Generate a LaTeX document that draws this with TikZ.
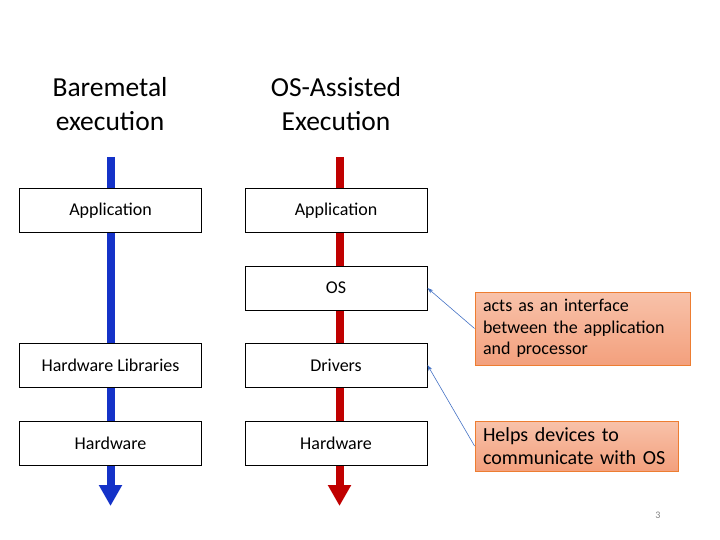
\documentclass[tikz,border=0pt]{standalone}
\usepackage{fontspec}
\setmainfont{Carlito}
\usetikzlibrary{arrows.meta,backgrounds}
\definecolor{spblue}{RGB}{20,50,200}
\definecolor{spred}{RGB}{192,0,0}
\definecolor{callborder}{RGB}{237,125,49}
\definecolor{calltop}{RGB}{248,194,170}
\definecolor{callbot}{RGB}{243,160,125}
\definecolor{linkblue}{RGB}{68,114,196}
\begin{document}
\begin{tikzpicture}[x=1pt,y=-1pt,
  layerbox/.style={draw=black, line width=0.9pt, fill=white, minimum width=182pt, minimum height=44pt, inner sep=0pt, font=\fontsize{18}{22}\selectfont},
  title/.style={align=center, font=\fontsize{27.5}{34}\selectfont},
  spine/.style={line width=8pt, -{Triangle[width=22pt,length=21pt]}},
  callout/.style={draw=callborder, line width=0.9pt, top color=calltop, bottom color=callbot, align=left, inner xsep=8pt, inner ysep=0pt},
  link/.style={draw=linkblue, line width=0.6pt, -{Stealth[length=6pt,width=4pt]}}]
\useasboundingbox (0,0) rectangle (720,540);

% titles
\node[title] (t1) at (110,104) {Baremetal\\execution};
\node[title] (t2) at (336,104) {OS-Assisted\\Execution};

% left column
\node[layerbox] (app1) at (110.5,210.5) {Application};
\node[layerbox] (hwlib) at (110.5,365) {Hardware Libraries};
\node[layerbox] (hw1) at (110.5,443) {Hardware};

% middle column
\node[layerbox] (app2) at (336,210.5) {Application};
\node[layerbox] (os) at (336,288) {OS};
\node[layerbox] (drv) at (336,365) {Drivers};
\node[layerbox] (hw2) at (336,443) {Hardware};

% spines
\coordinate (bs) at (110.5,157);
\coordinate (be) at (110.5,506);
\coordinate (rs) at (339.5,157);
\coordinate (re) at (339.5,506);
\begin{pgfonlayer}{background}
  \draw[spine, spblue] (bs) -- (be);
  \draw[spine, spred] (rs) -- (re);
\end{pgfonlayer}

% callouts
\node[callout, text width=199pt, minimum height=73pt, font=\fontsize{18}{21.5}\selectfont] (c1) at (582.5,328.5)
  {acts as an interface\\between the application\\and processor};
\node[callout, text width=187pt, minimum height=50pt, font=\fontsize{20}{23.5}\selectfont] (c2) at (576.5,446)
  {Helps devices to\\communicate with OS};

\draw[link] (c1.west) -- (os.east);
\draw[link] (c2.west) -- (drv.east);

% page number
\node[text=gray, font=\fontsize{10}{12}\selectfont] (pg) at (658,515) {3};
\end{tikzpicture}
\end{document}
